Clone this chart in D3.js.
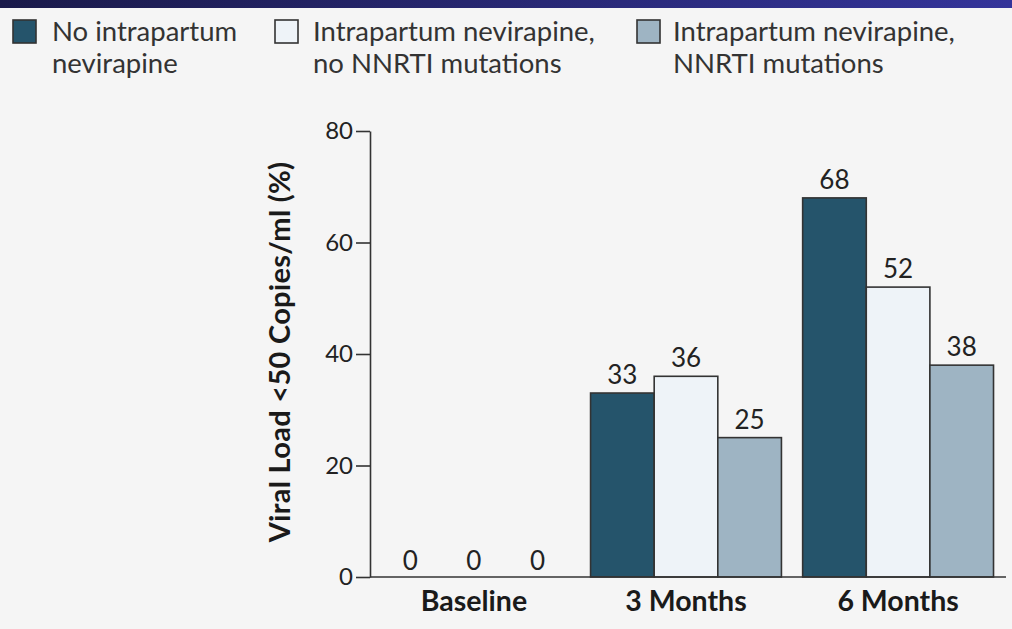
<!DOCTYPE html>
<html><head><meta charset="utf-8">
<script src="https://cdn.jsdelivr.net/npm/d3@7"></script>
<style>
html,body{margin:0;padding:0;background:#f5f5f5;}
svg{display:block;font-family:Lato,"Open Sans",sans-serif;}
</style></head>
<body><svg id="c" width="1012" height="629"></svg>
<script>
const categories = ["Baseline", "3 Months", "6 Months"];
const seriesNames = ["No intrapartum nevirapine", "Intrapartum nevirapine, no NNRTI mutations", "Intrapartum nevirapine, NNRTI mutations"];
const legendLines = [["No intrapartum", "nevirapine"], ["Intrapartum nevirapine,", "no NNRTI mutations"], ["Intrapartum nevirapine,", "NNRTI mutations"]];
const noNevirapine = [0, 33, 68];
const nevirapineNoMutations = [0, 36, 52];
const nevirapineMutations = [0, 25, 38];
const yTicks = [0, 20, 40, 60, 80];
const colors = ["#25546b", "#eef3f8", "#9eb4c3"];

const seriesValues = [noNevirapine, nevirapineNoMutations, nevirapineMutations];
const svg = d3.select("#c");

// top gradient band
const defs = svg.append("defs");
const g = defs.append("linearGradient").attr("id", "topg").attr("x1", "0").attr("x2", "1");
g.append("stop").attr("offset", "0").attr("stop-color", "#1a1a4a");
g.append("stop").attr("offset", "1").attr("stop-color", "#34349a");
svg.append("rect").attr("x", 0).attr("y", 0).attr("width", 1012).attr("height", 8).attr("fill", "url(#topg)");

const x0 = d3.scaleBand().domain(categories).range([370, 1002]).paddingInner(0.1).paddingOuter(0.04);
const x1 = d3.scaleBand().domain(seriesNames).range([0, x0.bandwidth()]).padding(0);
const y = d3.scaleLinear().domain([0, 80]).range([577, 131]);

// bars
const groups = svg.append("g").selectAll("g").data(categories).join("g")
  .attr("transform", d => `translate(${x0(d)},0)`);
groups.selectAll("rect").data((c, ci) => seriesNames.map((s, si) => ({s, si, v: seriesValues[si][ci]})))
  .join("rect")
  .attr("x", d => x1(d.s)).attr("width", x1.bandwidth())
  .attr("y", d => y(d.v)).attr("height", d => y(0) - y(d.v))
  .attr("fill", d => colors[d.si]).attr("stroke", "#333").attr("stroke-width", 1.6);
groups.selectAll("text").data((c, ci) => seriesNames.map((s, si) => ({s, si, v: seriesValues[si][ci]})))
  .join("text")
  .attr("x", d => x1(d.s) + x1.bandwidth() / 2)
  .attr("y", d => y(d.v) - (d.v === 0 ? 7 : 9))
  .attr("text-anchor", "middle").attr("font-size", 26).attr("fill", "#222")
  .text(d => d.v);

// y axis
const yAxis = svg.append("g").attr("transform", "translate(370,0)")
  .call(d3.axisLeft(y).tickValues(yTicks).tickSize(14).tickSizeOuter(0).tickPadding(3));
yAxis.select(".domain").attr("stroke", "#333").attr("stroke-width", 1.6);
yAxis.selectAll(".tick line").attr("stroke", "#333").attr("stroke-width", 1.6);
yAxis.selectAll(".tick text").attr("font-size", 24).attr("fill", "#222").attr("font-family", "Lato, sans-serif");

// x axis
const xAxis = svg.append("g").attr("transform", "translate(0,577)")
  .call(d3.axisBottom(x0).tickSize(0).tickPadding(14));
xAxis.select(".domain").attr("d", "M370,0H1006").attr("stroke", "#333").attr("stroke-width", 1.6);
xAxis.selectAll(".tick text").attr("font-size", 28.5).attr("font-weight", "bold").attr("fill", "#1a1a1a").attr("font-family", "Lato, sans-serif");

// y title
svg.append("text").attr("transform", "translate(290,352) rotate(-90)")
  .attr("text-anchor", "middle").attr("font-size", 29).attr("font-weight", "bold").attr("fill", "#1a1a1a")
  .attr("letter-spacing", 0.3)
  .text("Viral Load <50 Copies/ml (%)");

// legend
const legX = [13, 275, 637];
const legTextOff = [39, 38, 36];
const leg = svg.append("g").selectAll("g").data(seriesNames).join("g")
  .attr("transform", (d, i) => `translate(${legX[i]},20)`);
leg.append("rect").attr("width", 23).attr("height", 23)
  .attr("fill", (d, i) => colors[i]).attr("stroke", "#333").attr("stroke-width", 1.6);
leg.each(function(d, i) {
  const t = d3.select(this).append("text").attr("font-size", 27.5).attr("fill", "#333");
  legendLines[i].forEach((line, li) => {
    t.append("tspan").attr("x", legTextOff[i]).attr("y", 21 + li * 32).text(line);
  });
});
</script></body></html>
